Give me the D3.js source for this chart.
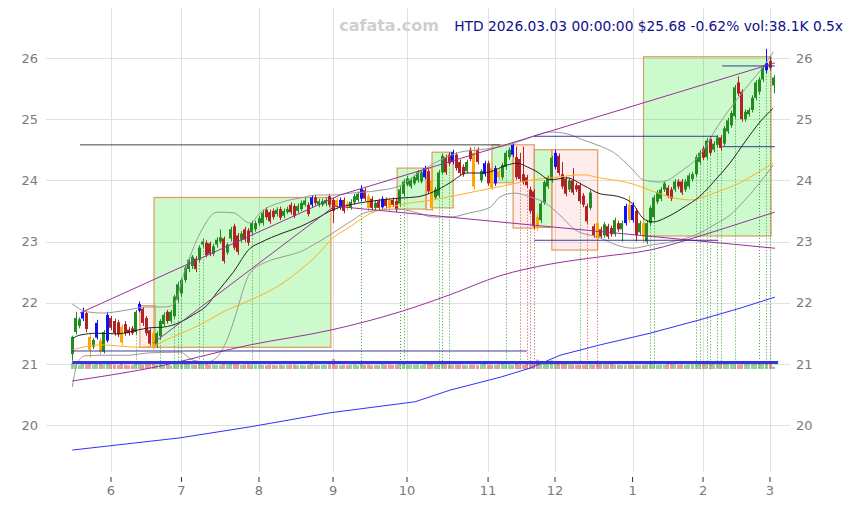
<!DOCTYPE html>
<html><head><meta charset="utf-8">
<script src="https://cdn.jsdelivr.net/npm/d3@7"></script>
<style>body{margin:0;background:#fff}svg{display:block}text{font-family:"DejaVu Sans",sans-serif}</style>
</head><body><svg id="c" width="853" height="505"></svg>
<script>
// ---------- categories ----------
const firstDay = "2025-05-15", lastDay = "2026-03-03";
const holidays = ["2025-05-26","2025-06-19","2025-07-04","2025-09-01","2025-11-27","2025-12-25","2026-01-01","2026-01-19","2026-02-16"];
const yTicks = [20,21,22,23,24,25,26];

// ---------- candles [open, high, low, close] ----------
const ohlc = [
[21.16,21.46,21.05,21.44],[21.52,21.85,21.48,21.75],[21.62,21.76,21.58,21.73],[21.74,21.92,21.70,21.85],[21.83,21.86,21.52,21.57],
[21.44,21.48,21.10,21.23],[21.28,21.42,21.24,21.39],[21.43,21.72,21.40,21.67],[21.38,21.42,21.15,21.20],[21.20,21.55,21.17,21.52],
[21.38,21.85,21.35,21.80],[21.75,21.78,21.55,21.59],[21.70,21.74,21.46,21.50],[21.68,21.72,21.44,21.48],[21.60,21.64,21.30,21.35],
[21.65,21.70,21.46,21.50],[21.56,21.60,21.46,21.50],[21.58,21.62,21.47,21.50],[21.52,21.88,21.48,21.85],[21.87,22.02,21.84,21.98],
[21.90,21.93,21.62,21.67],[21.75,21.78,21.46,21.50],[21.55,21.58,21.30,21.33],[21.50,21.53,21.24,21.28],[21.30,21.53,21.26,21.50],
[21.45,21.73,21.40,21.70],[21.65,21.84,21.62,21.80],[21.85,21.88,21.66,21.70],[21.70,21.88,21.66,21.85],[21.78,22.13,21.74,22.10],
[22.05,22.34,22.00,22.30],[22.15,22.40,22.10,22.37],[22.37,22.60,22.33,22.57],[22.55,22.74,22.50,22.70],[22.60,22.78,22.55,22.75],
[22.72,22.76,22.50,22.55],[22.70,22.94,22.66,22.90],[22.95,23.05,22.90,23.00],[22.98,23.02,22.74,22.78],[22.97,23.00,22.76,22.80],
[22.80,22.96,22.76,22.92],[22.95,23.07,22.90,23.03],[23.00,23.20,22.96,23.07],[23.05,23.08,22.64,22.68],[22.82,22.98,22.78,22.95],
[23.05,23.24,23.00,23.20],[23.25,23.29,22.86,22.90],[23.10,23.14,22.78,22.83],[23.03,23.17,22.98,23.13],[23.20,23.24,22.99,23.03],
[23.18,23.22,22.93,22.98],[23.15,23.34,23.10,23.30],[23.20,23.34,23.16,23.30],[23.30,23.42,23.26,23.38],[23.30,23.52,23.26,23.47],
[23.52,23.56,23.36,23.40],[23.48,23.52,23.29,23.33],[23.50,23.54,23.36,23.40],[23.45,23.56,23.41,23.52],[23.53,23.57,23.35,23.39],
[23.42,23.54,23.38,23.50],[23.48,23.57,23.45,23.53],[23.60,23.64,23.44,23.48],[23.58,23.62,23.38,23.42],[23.50,23.62,23.46,23.58],
[23.53,23.67,23.50,23.63],[23.60,23.71,23.57,23.67],[23.60,23.64,23.41,23.45],[23.60,23.76,23.56,23.72],[23.72,23.76,23.59,23.63],
[23.60,23.70,23.56,23.66],[23.60,23.70,23.57,23.66],[23.62,23.72,23.58,23.68],[23.74,23.78,23.56,23.60],[23.68,23.72,23.30,23.50],
[23.68,23.72,23.52,23.56],[23.56,23.72,23.52,23.68],[23.68,23.72,23.46,23.50],[23.62,23.66,23.51,23.55],[23.55,23.69,23.52,23.65],
[23.64,23.78,23.60,23.74],[23.68,23.82,23.64,23.78],[23.70,23.92,23.66,23.86],[23.84,23.88,23.66,23.70],[23.74,23.78,23.50,23.55],
[23.70,23.74,23.51,23.55],[23.55,23.67,23.51,23.63],[23.66,23.70,23.51,23.55],[23.56,23.74,23.52,23.70],[23.68,23.72,23.54,23.58],
[23.68,23.72,23.50,23.55],[23.68,23.72,23.56,23.60],[23.66,23.70,23.48,23.52],[23.62,23.90,23.58,23.85],[23.78,24.02,23.74,23.98],
[23.93,24.07,23.90,24.03],[23.90,24.04,23.86,24.00],[23.95,24.09,23.92,24.05],[24.00,24.17,23.96,24.13],[23.98,24.17,23.95,24.13],
[24.05,24.24,24.02,24.20],[24.15,24.19,23.78,23.82],[24.00,24.20,23.50,23.55],[23.72,23.89,23.68,23.85],[23.75,24.17,23.72,24.13],
[24.13,24.44,24.10,24.40],[24.38,24.42,24.09,24.13],[24.42,24.46,24.24,24.28],[24.30,24.50,24.26,24.46],[24.42,24.46,24.16,24.20],
[24.30,24.34,24.08,24.12],[24.22,24.26,24.06,24.10],[24.15,24.34,24.12,24.30],[24.50,24.54,24.31,24.35],[24.45,24.55,23.85,23.90],
[24.50,24.54,24.26,24.30],[24.00,24.18,23.96,24.15],[24.10,24.32,24.06,24.28],[24.28,24.32,23.91,23.95],[24.20,24.24,23.84,23.88],
[23.95,24.24,23.91,24.20],[24.15,24.19,24.01,24.05],[24.05,24.29,24.01,24.25],[24.22,24.49,24.18,24.45],[24.38,24.54,24.34,24.50],
[24.42,24.62,24.38,24.58],[24.38,24.55,24.01,24.05],[24.35,24.45,23.98,24.02],[24.10,24.55,23.93,23.97],[24.05,24.09,23.88,23.92],
[23.85,23.90,23.46,23.50],[23.82,23.86,23.20,23.25],[23.40,23.45,23.18,23.22],[23.35,23.66,23.30,23.62],[23.63,24.00,23.60,23.97],
[23.90,24.08,23.86,24.05],[24.00,24.40,23.96,24.37],[24.22,24.50,24.18,24.45],[24.40,24.44,24.08,24.12],[24.10,24.30,23.86,23.90],
[24.02,24.06,23.74,23.78],[23.85,24.04,23.81,24.00],[24.00,24.20,23.76,23.80],[23.92,23.96,23.81,23.85],[23.92,23.96,23.62,23.66],
[23.75,23.79,23.56,23.60],[23.58,23.62,23.29,23.33],[23.55,23.84,23.51,23.80],[23.25,23.29,23.06,23.10],[23.30,23.40,22.98,23.05],
[23.20,23.24,23.04,23.08],[23.10,23.32,23.06,23.28],[23.25,23.29,23.04,23.08],[23.22,23.26,23.08,23.12],[23.12,23.39,23.08,23.35],
[23.30,23.34,23.16,23.20],[23.20,23.34,23.00,23.30],[23.30,23.62,23.26,23.58],[23.60,23.75,23.31,23.35],[23.35,23.64,23.31,23.60],
[23.50,23.54,23.00,23.10],[23.15,23.34,23.11,23.30],[23.30,23.34,22.98,23.08],[23.00,23.34,22.96,23.30],[23.30,23.59,23.26,23.55],
[23.40,23.76,23.36,23.72],[23.65,23.84,23.61,23.80],[23.70,23.89,23.66,23.85],[23.85,23.99,23.81,23.95],[23.88,23.92,23.71,23.75],
[23.85,23.89,23.66,23.70],[23.85,24.02,23.81,23.98],[23.98,24.02,23.86,23.90],[23.98,24.02,23.76,23.80],[23.85,24.02,23.81,23.98],
[23.90,24.12,23.86,24.08],[24.02,24.14,23.98,24.10],[24.10,24.42,24.06,24.38],[24.30,24.49,24.26,24.45],[24.52,24.56,24.33,24.37],
[24.38,24.69,24.34,24.65],[24.68,24.72,24.41,24.45],[24.50,24.64,24.46,24.60],[24.58,24.74,24.54,24.70],[24.70,24.74,24.49,24.53],
[24.60,24.89,24.56,24.85],[24.80,25.02,24.76,24.98],[24.90,25.14,24.86,25.10],[25.05,25.56,25.01,25.52],[25.60,25.70,25.38,25.42],
[25.45,25.49,24.96,25.00],[25.00,25.16,24.96,25.12],[25.08,25.19,25.04,25.15],[25.15,25.39,25.11,25.35],[25.35,25.64,25.31,25.60],
[25.45,25.69,25.41,25.65],[25.65,25.88,25.61,25.84],[25.80,26.15,25.75,25.92],[25.95,26.02,25.80,25.84],[25.55,25.72,25.42,25.68]
];
const blueCandles = [3,7,10,19,68,76,82,88,100,108,117,120,125,137,157,159,197];
const orangeCandles = [5,8,14,23,75,78,84,90,102,114,119,121,132,149,158,162];

// ---------- volume (thousands) ----------
const volume = [
95,70,62,80,75,110,68,90,85,72, 88,76,70,64,92,66,58,60,85,78,
72,80,90,96,70,82,64,70,60,88, 120,95,90,84,70,66,80,74,92,68,
70,64,60,96,72,80,88,76,62,70, 74,66,68,72,64,60,70,62,58,66,
60,64,70,68,58,62,56,64,90,60, 58,66,62,70,160,64,58,62,60,68,
72,60,96,64,70,58,62,60,74,66, 70,64,68,90,80,72,68,66,70,62,
74,84,110,70,72,88,74,68,66,70, 72,64,60,66,68,62,74,120,70,66,
64,72,78,68,70,62,80,70,66,90, 84,88,150,96,90,110,140,98,80,84,
76,72,70,68,66,64,70,72,68,90, 74,70,72,110,70,66,64,62,68,66,
62,60,64,70,74,72,66,68,64,80, 82,76,70,72,66,70,74,78,80,86,
92,90,88,100,96,84,80,78,72,70, 76,80,88,90,86,84,80,120,76,38
];

// ---------- indicator lines [candle index, price] ----------
const ma20 = [[0.2,21.42],[2.2,21.47],[7,21.50],[12.7,21.49],[18.4,21.55],[22.1,21.59],[25.8,21.60],[30.6,21.68],[34.3,21.80],[38.3,21.96],[41.1,22.17],[45.6,22.49],[50.5,22.89],[53.3,22.98],[59.8,23.14],[64.6,23.24],[69.5,23.38],[74,23.52],[78.8,23.60],[83.7,23.65],[93,23.71],[97.9,23.73],[102.4,23.81],[107.2,23.96],[112,24.12],[115.7,24.12],[118.6,24.14],[123.4,24.25],[126.2,24.28],[129.1,24.22],[131.9,24.14],[135.6,24.01],[140.4,24.04],[145,23.92],[149.8,23.78],[154.6,23.74],[159.1,23.61],[162,23.38],[164.8,23.32],[168.8,23.40],[173.3,23.55],[178.1,23.74],[183,24.04],[186.6,24.28],[190.9,24.63],[195.1,24.95],[198.9,25.18]];
const ma50 = [[0.2,21.23],[7.9,21.31],[19.2,21.27],[23.5,21.31],[27.8,21.42],[36.3,21.64],[43.9,21.88],[50.5,22.04],[59.8,22.32],[64.6,22.53],[69.5,22.78],[74,23.06],[78.8,23.24],[83.7,23.43],[93,23.60],[102.4,23.68],[113.7,23.81],[123.4,23.92],[130.8,24.01],[135.6,24.04],[145,24.09],[149.8,24.04],[159.1,23.94],[163.9,23.84],[168.8,23.74],[175.3,23.68],[183,23.81],[189.5,23.96],[194.3,24.12],[198.9,24.28]];
const bandUpper = [[0,21.98],[4.2,21.85],[8.7,21.83],[15.6,21.88],[21.2,21.93],[26.3,21.93],[28.6,21.96],[32,22.53],[36.3,23.14],[41.1,23.48],[45.6,23.47],[50.5,23.30],[53.3,23.47],[59.8,23.65],[64.6,23.71],[69.5,23.76],[74,23.76],[78.8,23.79],[86.5,23.83],[93,23.91],[98.7,24.14],[104.4,24.33],[110,24.46],[115.7,24.50],[121.4,24.55],[125.6,24.61],[130.8,24.72],[135.6,24.79],[140.4,24.76],[145,24.66],[149.8,24.56],[153.5,24.46],[159.1,24.17],[162,24.01],[166.8,23.97],[173.3,24.17],[178.1,24.41],[183,24.87],[192.3,25.59],[196,25.85],[198.9,26.10]];
const bandLower = [[0,20.62],[1.6,21.03],[3.6,21.13],[7.9,21.14],[15.6,21.14],[22.1,21.18],[30.6,21.19],[34.3,21.06],[38.3,21.03],[41.1,21.11],[43.9,21.39],[46.8,21.88],[48.5,22.21],[50.5,22.49],[55.3,22.67],[59.8,22.75],[64.6,22.83],[69.5,22.98],[74,23.14],[78.8,23.32],[83.7,23.48],[92.2,23.53],[97.9,23.47],[102.4,23.40],[107.2,23.40],[112.9,23.47],[118.6,23.56],[121.4,23.73],[125.6,23.79],[129.9,23.73],[134.2,23.63],[138.4,23.43],[142.7,23.19],[149.8,23.06],[154.6,22.94],[159.1,22.89],[163.9,22.94],[168.8,22.98],[178.1,23.14],[183,23.30],[186.6,23.43],[190.9,23.68],[195.1,23.96],[198.9,24.25]];
const trendUpper = [[2.2,21.83],[76,23.76],[199.4,25.92]];
const trendSteep = [[23,21.34],[74,23.56]];
const trendFalling = [[74,23.58],[199.4,22.89]];
const longCurve = [[0,20.72],[22.1,20.93],[50.5,21.31],[73.2,21.55],[93,21.85],[107.2,22.13],[121.4,22.44],[135.6,22.63],[149.8,22.75],[163.9,22.86],[178.1,23.09],[192.3,23.35],[199.4,23.48]];
const longMA = [[0,19.59],[30.6,19.79],[50.5,19.97],[73.2,20.20],[97.3,20.38],[107.2,20.57],[121.4,20.78],[129.9,20.93],[138.4,21.14],[149.8,21.31],[163.9,21.50],[178.1,21.72],[189.5,21.91],[199.4,22.09]];

// ---------- levels [price, from index, to index, width] ----------
const levels = [[24.58,2.2,121.4,0.9],[24.72,131.1,183.3,0.9],[24.55,184.4,199.4,0.9],[23.02,131.1,183.3,0.9],[21.21,0,129,0.9],[25.87,184.4,199.4,0.9],[21.03,0,200.3,2],[21.005,0,200.3,1]];

// ---------- zones [from index, to index, top price, bottom price, kind] ----------
const zones = [[19.2,23.5,21.95,21.27,"sell"],[23.2,73.4,23.72,21.27,"buy"],[92.2,100.4,24.20,23.53,"buy"],[100.4,102.1,24.20,23.52,"sell"],[102.1,108.1,24.46,23.55,"buy"],[119.1,125.1,24.58,23.96,"buy"],[125.1,131.1,24.58,23.22,"sell"],[131.1,136.1,24.50,23.23,"buy"],[136.1,149.1,24.50,22.86,"sell"],[162.1,198.3,26.02,23.09,"buy"]];

// ---------- signals (candle indices) ----------
const buySignals = [18,25,29,30,31,36,37,51,82,93,94,104,105,107,123,144,164,165,177,178,180,181,183,184,188,195,197,198];
const sellSignals = [127,129,130,131,146,149];

const titleText = "HTD 2026.03.03 00:00:00 $25.68 -0.62% vol:38.1K 0.5x";

// ---------- build dates ----------
const parse = d3.timeParse("%Y-%m-%d"), fmt = d3.timeFormat("%Y-%m-%d");
const dates = [];
for (let d = parse(firstDay); d <= parse(lastDay); d = d3.timeDay.offset(d, 1)) {
  const s = fmt(d), wd = d.getDay();
  if (wd !== 0 && wd !== 6 && !holidays.includes(s)) dates.push(s);
}
const N = dates.length;

const svg = d3.select("#c");
const x = d3.scaleBand().domain(dates).range([70.47, 775.3]).paddingInner(0.2).paddingOuter(0.1);
const cx = d => x(d) + x.bandwidth()/2;
const xi = d3.scaleLinear().domain([0, N-1]).range([cx(dates[0]), cx(dates[N-1])]);
const y = d3.scaleLinear().domain([20, 26]).range([425, 58]);

const monthTicks = dates.filter((d,i) => i > 0 && d.slice(5,7) !== dates[i-1].slice(5,7));

// grid
const grid = svg.append("g");
grid.selectAll("line.h").data(yTicks).join("line")
  .attr("x1", 46).attr("x2", 790).attr("y1", d => Math.round(y(d))+0.5).attr("y2", d => Math.round(y(d))+0.5)
  .attr("stroke", "#e0e0e0");
grid.selectAll("line.v").data(monthTicks).join("line")
  .attr("x1", d => Math.round(cx(d))+0.5).attr("x2", d => Math.round(cx(d))+0.5).attr("y1", 8).attr("y2", 472)
  .attr("stroke", "#e0e0e0");

// axes
const fInt = d3.format("d");
const yl = svg.append("g").attr("transform","translate(45,0)").call(d3.axisLeft(y).tickValues(yTicks).tickSize(0).tickPadding(7).tickFormat(fInt));
const yr = svg.append("g").attr("transform","translate(790,0)").call(d3.axisRight(y).tickValues(yTicks).tickSize(0).tickPadding(6).tickFormat(fInt));
const xa = svg.append("g").attr("transform","translate(0,477)").call(d3.axisBottom(x).tickValues(monthTicks).tickSize(5).tickPadding(4).tickFormat(d => +d.slice(5,7)));
[yl, yr, xa].forEach(g => { g.select(".domain").remove(); g.selectAll("text").attr("fill","#7a7a7a").style("font-size","13px").style("font-family","DejaVu Sans"); });
xa.selectAll(".tick line").attr("stroke","#333");

// zones
svg.append("g").selectAll("rect").data(zones).join("rect")
  .attr("x", d => xi(d[0])).attr("width", d => xi(d[1]) - xi(d[0]))
  .attr("y", d => y(d[2])).attr("height", d => y(d[3]) - y(d[2]))
  .attr("fill", d => d[4] === "buy" ? "rgba(0,230,0,0.2)" : "rgba(255,60,60,0.09)")
  .attr("stroke", "#e09a5c").attr("stroke-width", 1.2);

// volume
const yv = d3.scaleLinear().domain([0, 160]).range([369, 359]);
svg.append("g").selectAll("rect").data(volume).join("rect")
  .attr("x", (d,i) => Math.round(cx(dates[i]) - 1.5)).attr("width", 3)
  .attr("y", d => yv(d)).attr("height", d => yv(0) - yv(d))
  .attr("fill", (d,i) => ohlc[i][3] >= ohlc[i][0] ? "rgba(34,150,34,0.45)" : "rgba(200,40,40,0.45)");

// signal dotted lines
const sig = svg.append("g");
sig.selectAll("line.b").data(buySignals).join("line")
  .attr("x1", i => Math.round(cx(dates[i]))+0.5).attr("x2", i => Math.round(cx(dates[i]))+0.5)
  .attr("y1", i => y(ohlc[i][2])).attr("y2", 369)
  .attr("stroke", "#3aa03a").attr("stroke-dasharray","1,2").attr("stroke-width",1);
sig.selectAll("line.s").data(sellSignals).join("line")
  .attr("x1", i => Math.round(cx(dates[i]))+0.5).attr("x2", i => Math.round(cx(dates[i]))+0.5)
  .attr("y1", i => y(ohlc[i][2])).attr("y2", 369)
  .attr("stroke", "#d24a4a").attr("stroke-dasharray","1,2").attr("stroke-width",1);

// candles
const colorOf = i => blueCandles.includes(i) ? "#1010ff" : orangeCandles.includes(i) ? "#ffa500" : (ohlc[i][3] >= ohlc[i][0] ? "#228b22" : "#b22222");
const cg = svg.append("g");
cg.selectAll("line").data(ohlc).join("line")
  .attr("x1", (d,i) => Math.round(cx(dates[i]))+0.5).attr("x2", (d,i) => Math.round(cx(dates[i]))+0.5)
  .attr("y1", d => y(d[1])).attr("y2", d => y(d[2]))
  .attr("stroke", (d,i) => colorOf(i)).attr("stroke-width", 1);
cg.selectAll("rect").data(ohlc).join("rect")
  .attr("x", (d,i) => Math.round(cx(dates[i]) - 1.5)).attr("width", 3)
  .attr("y", d => y(Math.max(d[0], d[3])))
  .attr("height", d => Math.max(1, Math.abs(y(d[0]) - y(d[3]))))
  .attr("fill", (d,i) => colorOf(i));

// lines
const line = d3.line().x(d => xi(d[0])).y(d => y(d[1]));
const curve = d3.line().x(d => xi(d[0])).y(d => y(d[1])).curve(d3.curveMonotoneX);
const lg = svg.append("g").attr("fill","none");
lg.append("path").attr("d", curve(bandUpper)).attr("stroke","#999").attr("stroke-width",1);
lg.append("path").attr("d", curve(bandLower)).attr("stroke","#999").attr("stroke-width",1);
lg.append("path").attr("d", curve(ma50)).attr("stroke","#ffb020").attr("stroke-width",1);
lg.append("path").attr("d", curve(ma20)).attr("stroke","#222").attr("stroke-width",1);
lg.append("path").attr("d", curve(longCurve)).attr("stroke","#9a309a").attr("stroke-width",1);
lg.append("path").attr("d", line(longMA)).attr("stroke","#3030ff").attr("stroke-width",1);
[trendUpper, trendSteep, trendFalling].forEach(t => lg.append("path").attr("d", line(t)).attr("stroke","#9a309a").attr("stroke-width",1));

// levels
svg.append("g").selectAll("line").data(levels).join("line")
  .attr("x1", d => xi(d[1])).attr("x2", d => xi(d[2]))
  .attr("y1", d => y(d[0])).attr("y2", d => y(d[0]))
  .attr("stroke", (d,i) => i === 0 ? "#333" : (i < 6 ? "#262690" : "#3535e0")).attr("stroke-width", d => d[3]);

// texts
svg.append("text").attr("x", 389).attr("y", 31).attr("text-anchor","middle")
  .attr("fill","#cfcfcf").style("font-size","16px").style("font-weight","bold").text("cafata.com");
svg.append("text").attr("x", 843).attr("y", 31).attr("text-anchor","end")
  .attr("fill","#10108a").style("font-size","13.8px").text(titleText);
</script></body></html>
